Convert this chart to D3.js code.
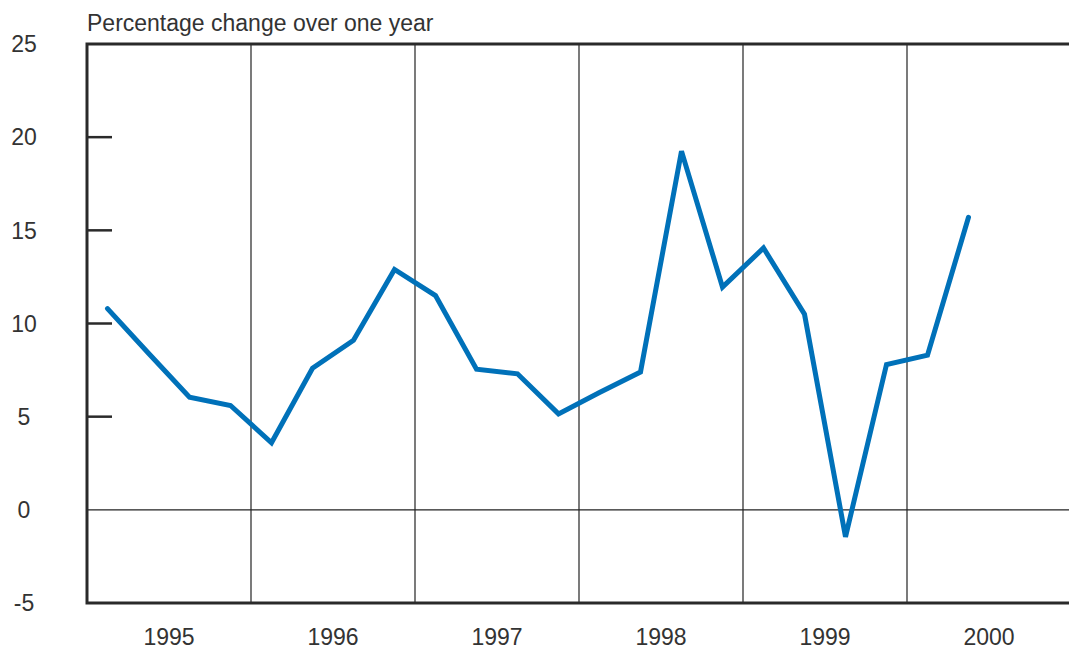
<!DOCTYPE html>
<html>
<head>
<meta charset="utf-8">
<script src="https://cdn.jsdelivr.net/npm/d3@7"></script>
<style>
  body { margin: 0; background: #fff; }
  text { font-family: "Liberation Sans", Arial, sans-serif; fill: #333; }
</style>
</head>
<body>
<svg id="chart"></svg>
<script>
// ---- data ----
const years = [1995, 1996, 1997, 1998, 1999, 2000];
const quarters = [
  "1995Q1","1995Q2","1995Q3","1995Q4",
  "1996Q1","1996Q2","1996Q3","1996Q4",
  "1997Q1","1997Q2","1997Q3","1997Q4",
  "1998Q1","1998Q2","1998Q3","1998Q4",
  "1999Q1","1999Q2","1999Q3","1999Q4",
  "2000Q1","2000Q2"
];
const values = [
  10.8, 8.4, 6.05, 5.6,
  3.6, 7.6, 9.1, 12.9,
  11.5, 7.55, 7.3, 5.15,
  6.3, 7.4, 19.25, 11.95,
  14.05, 10.5, -1.45, 7.8,
  8.3, 15.7
];
const yTicks = [-5, 0, 5, 10, 15, 20, 25];
const title = "Percentage change over one year";

// ---- layout ----
const width = 1069, height = 650;
const svg = d3.select("#chart").attr("width", width).attr("height", height);

const plotLeft = 87, plotTop = 44, plotBottom = 603;
const yearW = 164;

const x = d3.scaleLinear().domain([1995, 2001]).range([plotLeft, plotLeft + 6 * yearW]);
const y = d3.scaleLinear().domain([-5, 25]).range([plotBottom, plotTop]);

// quarter -> fractional year at the middle of the quarter
const qPos = q => +q.slice(0, 4) + (+q.slice(5) - 0.5) / 4;
const points = quarters.map((q, i) => ({ t: qPos(q), v: values[i] }));

// vertical year separators
svg.append("g")
  .selectAll("line")
  .data(years.slice(1))
  .join("line")
  .attr("x1", d => x(d)).attr("x2", d => x(d))
  .attr("y1", plotTop).attr("y2", plotBottom)
  .attr("stroke", "#222").attr("stroke-width", 1.2);

// zero line
svg.append("line")
  .attr("x1", plotLeft).attr("x2", width)
  .attr("y1", y(0)).attr("y2", y(0))
  .attr("stroke", "#222").attr("stroke-width", 1.2);

// frame: top, left, bottom
svg.append("path")
  .attr("d", `M${width},${plotTop}H${plotLeft}V${plotBottom}H${width}`)
  .attr("fill", "none").attr("stroke", "#2a2a2a").attr("stroke-width", 3);

// inner tick marks on the left
svg.append("g")
  .selectAll("line")
  .data(yTicks.filter(d => d > 0 && d < 25))
  .join("line")
  .attr("x1", plotLeft).attr("x2", plotLeft + 25)
  .attr("y1", d => y(d)).attr("y2", d => y(d))
  .attr("stroke", "#2a2a2a").attr("stroke-width", 2.5);

// y labels
svg.append("g")
  .selectAll("text")
  .data(yTicks)
  .join("text")
  .attr("x", 24)
  .attr("y", d => y(d))
  .attr("dy", "0.36em")
  .attr("text-anchor", "middle")
  .style("font-size", "23px")
  .text(d => d);

// year labels
svg.append("g")
  .selectAll("text")
  .data(years)
  .join("text")
  .attr("x", d => x(d + 0.5))
  .attr("y", 645)
  .attr("text-anchor", "middle")
  .style("font-size", "23px")
  .text(d => d);

// title
svg.append("text")
  .attr("x", plotLeft)
  .attr("y", 31)
  .style("font-size", "23px")
  .text(title);

// series line
const line = d3.line().x(d => x(d.t)).y(d => y(d.v));
svg.append("path")
  .datum(points)
  .attr("d", line)
  .attr("fill", "none")
  .attr("stroke", "#0071b9")
  .attr("stroke-width", 5)
  .attr("stroke-linejoin", "miter")
  .attr("stroke-linecap", "round");
</script>
</body>
</html>
